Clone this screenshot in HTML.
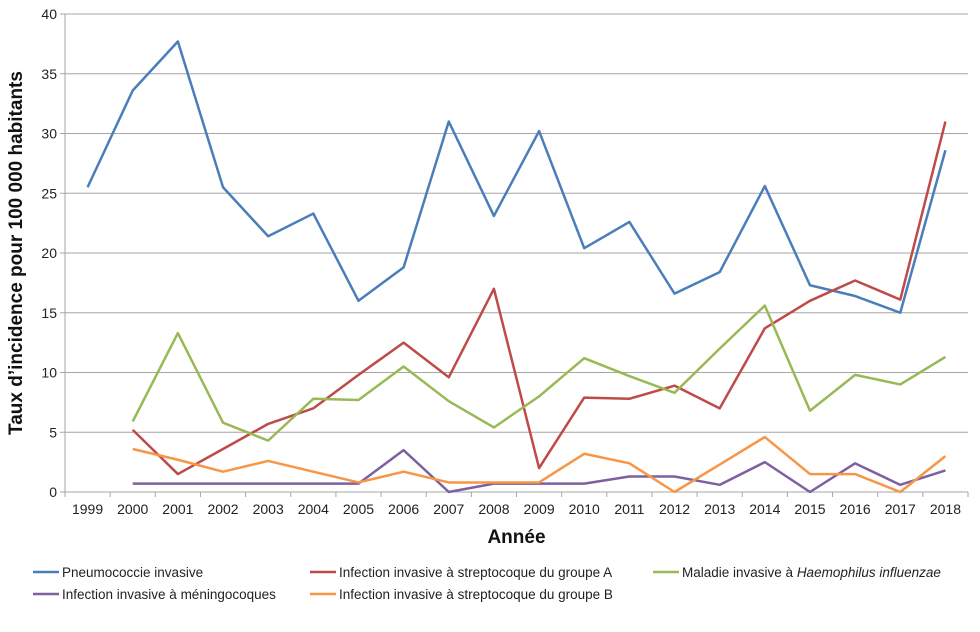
<!DOCTYPE html>
<html><head><meta charset="utf-8"><style>
body{margin:0;background:#fff;font-family:"Liberation Sans",sans-serif}
svg text{font-family:"Liberation Sans",sans-serif}
</style></head><body>
<svg id="c" width="980" height="627"></svg>
<script>
const years=[1999,2000,2001,2002,2003,2004,2005,2006,2007,2008,2009,2010,2011,2012,2013,2014,2015,2016,2017,2018];
const yTicks=[0,5,10,15,20,25,30,35,40];
const pneumo=[25.5,33.6,37.7,25.5,21.4,23.3,16.0,18.8,31.0,23.1,30.2,20.4,22.6,16.6,18.4,25.6,17.3,16.4,15.0,28.6];
const strepA=[null,5.2,1.5,3.6,5.7,7.0,9.8,12.5,9.6,17.0,2.0,7.9,7.8,8.9,7.0,13.7,16.0,17.7,16.1,31.0];
const haemo=[null,5.9,13.3,5.8,4.3,7.8,7.7,10.5,7.6,5.4,8.0,11.2,9.7,8.3,12.0,15.6,6.8,9.8,9.0,11.3];
const mening=[null,0.7,0.7,0.7,0.7,0.7,0.7,3.5,0,0.7,0.7,0.7,1.3,1.3,0.6,2.5,0,2.4,0.6,1.8];
const strepB=[null,3.6,2.7,1.7,2.6,1.7,0.8,1.7,0.8,0.8,0.8,3.2,2.4,0,2.3,4.6,1.5,1.5,0,3.0];
const NS="http://www.w3.org/2000/svg";
const svg=document.getElementById('c');
const L=65,R=968,T=14,B=492;
const step=(R-L)/years.length;
const x=i=>L+step*(i+0.5);
const y=v=>B-(v/40)*(B-T);
function el(t,a,p){const e=document.createElementNS(NS,t);for(const k in a)e.setAttribute(k,a[k]);(p||svg).appendChild(e);return e;}
yTicks.forEach(v=>{
 const g=el('line',{x1:L,x2:R,y1:y(v),y2:y(v),stroke:'#a6a6a6','stroke-width':1});
 
 
 el('line',{x1:L-5,x2:L,y1:y(v),y2:y(v),stroke:'#a6a6a6'});
 const t=el('text',{x:L-8,y:y(v)+5,'text-anchor':'end','font-size':14,fill:'#222'});t.textContent=v;
 
 
});
el('line',{x1:L,x2:L,y1:T,y2:B,stroke:'#a6a6a6'});
years.forEach((yr,i)=>{
 el('line',{x1:L+step*i,x2:L+step*i,y1:B,y2:B+5,stroke:'#a6a6a6'});
 const t=el('text',{x:x(i),y:B+22,'text-anchor':'middle','font-size':14,fill:'#222'});t.textContent=yr;
 
 
});
el('line',{x1:R,x2:R,y1:B,y2:B+5,stroke:'#a6a6a6'});
const series=[[pneumo,'#4a7ebb','pneumococcie-line'],[strepA,'#be4b48','strep-a-line'],[haemo,'#98b954','haemophilus-line'],[mening,'#7d60a0','meningocoques-line'],[strepB,'#f79646','strep-b-line']];
series.forEach(([d,c,n])=>{
 let p='';d.forEach((v,i)=>{if(v===null)return;p+=(p?'L':'M')+x(i)+','+y(v);});
 const e=el('path',{d:p,fill:'none',stroke:c,'stroke-width':2.5,'stroke-linejoin':'round'});
 
 
});
const xt=el('text',{x:(L+R)/2,y:543,'text-anchor':'middle','font-size':19,'font-weight':'bold',fill:'#111'});xt.textContent='Année';


const yt=el('text',{x:0,y:0,transform:'translate(22,253) rotate(-90)','text-anchor':'middle','font-size':19,'font-weight':'bold',fill:'#111'});yt.textContent='Taux d’incidence pour 100 000 habitants';


const leg=[[33,572,'#4a7ebb','Pneumococcie invasive'],[310,572,'#be4b48','Infection invasive à streptocoque du groupe A'],[653,572,'#98b954','Maladie invasive à <tspan font-style="italic">Haemophilus influenzae</tspan>'],[33,594,'#7d60a0','Infection invasive à méningocoques'],[310,594,'#f79646','Infection invasive à streptocoque du groupe B']];
leg.forEach(([lx,ly,c,txt])=>{
 const g=el('g',{});
 
 
 el('line',{x1:lx,x2:lx+26,y1:ly,y2:ly,stroke:c,'stroke-width':2.5},g);
 const t=el('text',{x:lx+29,y:ly+5,'font-size':13.5,fill:'#222'},g);t.innerHTML=txt;
});
</script>
</body></html>
